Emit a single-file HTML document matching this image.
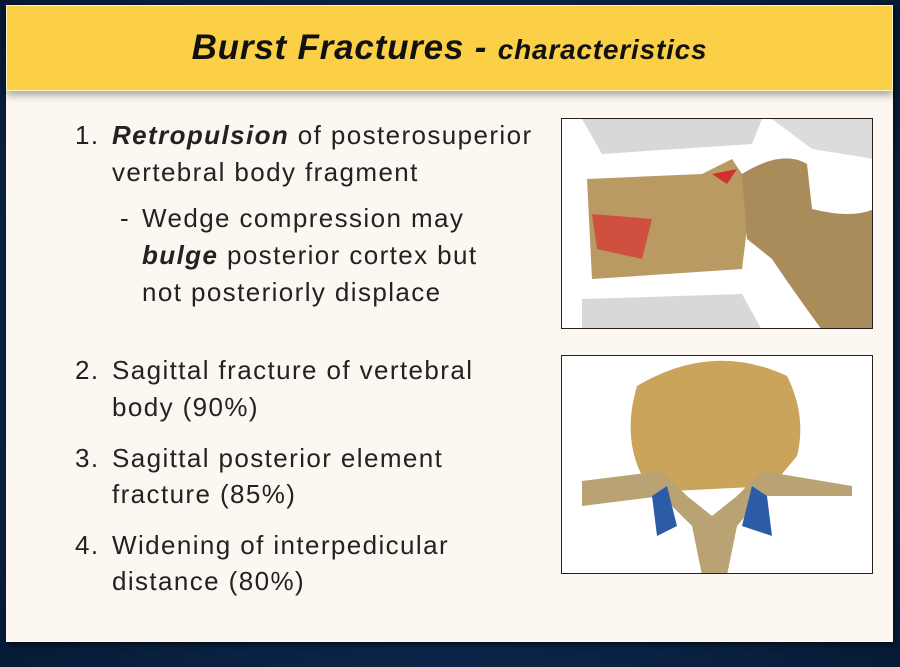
<!DOCTYPE html>
<html><head><style>
*{margin:0;padding:0;box-sizing:border-box}
body{width:900px;height:667px;background:radial-gradient(ellipse at center,#1b3d6e 0%,#0b2446 70%,#071a36 100%);position:relative;overflow:hidden;font-family:"Liberation Sans",sans-serif}
.slide{position:absolute;left:6px;top:5px;width:887px;height:637px;background:#fcf8f1;box-shadow:2px 3px 6px rgba(0,0,0,.6)}
.title{position:absolute;left:6px;top:5px;width:887px;height:86px;background:#fcd046;border:1px solid #fff3c0;box-shadow:0 4px 8px rgba(0,0,0,.35)}
.title div{position:absolute;left:0;right:0;top:22px;text-align:center;font-weight:bold;font-style:italic;color:#111;letter-spacing:0.8px}
.t{position:absolute;font-size:26px;color:#222;white-space:nowrap;line-height:30px;letter-spacing:1.4px}
.img{position:absolute;left:561px;width:312px;border:1.5px solid #222;background:#fff;overflow:hidden}
</style></head><body>
<div class="slide"></div>
<div class="title"><div><span style="font-size:35px">Burst Fractures - </span><span style="font-size:28px">characteristics</span></div></div>

<div class="t" style="left:75px;top:120px">1.</div>
<div class="t" style="left:112px;top:120px"><b><i>Retropulsion</i></b> of posterosuperior</div>
<div class="t" style="left:112px;top:157px">vertebral body fragment</div>
<div class="t" style="left:120px;top:203px">-</div>
<div class="t" style="left:142px;top:203px">Wedge compression may</div>
<div class="t" style="left:142px;top:240px"><b><i>bulge</i></b> posterior cortex but</div>
<div class="t" style="left:142px;top:277px">not posteriorly displace</div>
<div class="t" style="left:75px;top:355px">2.</div>
<div class="t" style="left:112px;top:355px">Sagittal fracture of vertebral</div>
<div class="t" style="left:112px;top:392px">body (90%)</div>
<div class="t" style="left:75px;top:443px">3.</div>
<div class="t" style="left:112px;top:443px">Sagittal posterior element</div>
<div class="t" style="left:112px;top:479px">fracture (85%)</div>
<div class="t" style="left:75px;top:530px">4.</div>
<div class="t" style="left:112px;top:530px">Widening of interpedicular</div>
<div class="t" style="left:112px;top:566px">distance (80%)</div>

<div class="img" style="top:118px;height:211px">
<svg width="312" height="211">
<path d="M20 0 L200 0 L190 25 L40 35 Z" fill="#d8d8d8"/>
<path d="M210 0 L312 0 L312 40 L250 30 Z" fill="#dcdcdc"/>
<path d="M20 180 L180 175 L200 211 L20 211 Z" fill="#d8d8d8"/>
<path d="M25 60 L140 55 L170 40 L190 70 L180 150 L30 160 Z" fill="#b89a62"/>
<path d="M30 95 L90 100 L80 140 L35 130 Z" fill="#d05040"/>
<path d="M180 55 Q220 30 245 45 L250 90 Q290 100 312 90 L312 211 L260 211 Q230 170 210 140 L185 120 Z" fill="#a98c5a"/>
<path d="M150 55 L175 50 L165 65 Z" fill="#d03030"/>
</svg></div>

<div class="img" style="top:355px;height:219px">
<svg width="312" height="219">
<path d="M75 30 Q150 -15 225 20 Q245 60 235 100 L210 130 L110 135 L80 120 Q60 80 75 30 Z" fill="#c9a45a"/>
<path d="M20 125 L100 115 L125 140 L150 160 L175 140 L200 115 L290 130 L290 140 L200 140 L175 170 L165 219 L140 219 L130 170 L100 140 L20 150 Z" fill="#b9a374"/>
<path d="M90 140 L105 130 L115 170 L95 180 Z" fill="#2c5ca8"/>
<path d="M180 170 L190 130 L205 140 L210 180 Z" fill="#2c5ca8"/>
</svg></div>
</body></html>
